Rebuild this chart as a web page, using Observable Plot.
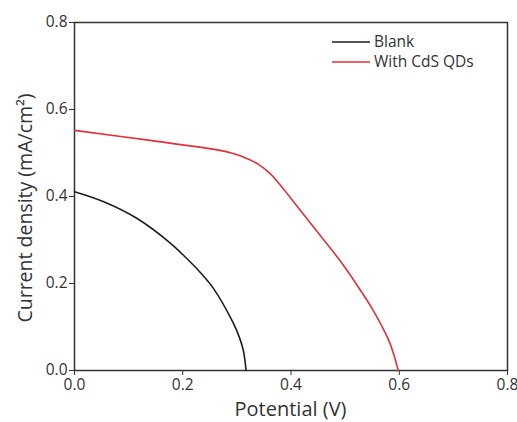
<!DOCTYPE html>
<html>
<head>
<meta charset="utf-8">
<script src="https://cdn.jsdelivr.net/npm/d3@7"></script>
<script src="https://cdn.jsdelivr.net/npm/@observablehq/plot@0.6"></script>
<style>
  html, body { margin: 0; padding: 0; background: #fff; }
  #chart svg { display: block; }
</style>
</head>
<body>
<div id="chart"></div>
<script>
const seriesNames = ["Blank", "With CdS QDs"];
const seriesColors = ["#1e1e1e", "#e0303c"];

const blankV = [0, 0.054, 0.115, 0.177, 0.207, 0.232, 0.256, 0.293, 0.305, 0.312, 0.315, 0.317];
const blankJ = [0.411, 0.388, 0.350, 0.293, 0.258, 0.226, 0.190, 0.110, 0.075, 0.046, 0.022, 0];

const cdsV = [0, 0.140, 0.269, 0.290, 0.312, 0.340, 0.361, 0.379, 0.416, 0.453, 0.489, 0.520, 0.551, 0.581, 0.590, 0.598];
const cdsJ = [0.552, 0.529, 0.506, 0.500, 0.491, 0.474, 0.453, 0.428, 0.370, 0.312, 0.255, 0.200, 0.140, 0.068, 0.036, 0];

const xTicks = [0, 0.2, 0.4, 0.6, 0.8];
const yTicks = [0, 0.2, 0.4, 0.6, 0.8];
const xLabel = "Potential (V)";
const yLabel = "Current density (mA/cm²)";

const blank = blankV.map((v, i) => ({V: v, J: blankJ[i]}));
const cds = cdsV.map((v, i) => ({V: v, J: cdsJ[i]}));

const fmt = d3.format(".1f");
const font = "'Open Sans', 'DejaVu Sans', sans-serif";

const plot = Plot.plot({
  width: 517,
  height: 422,
  marginLeft: 74,
  marginRight: 10,
  marginTop: 22,
  marginBottom: 52,
  style: {fontFamily: font, background: "#fff", color: "#333"},
  x: {domain: [0, 0.8]},
  y: {domain: [0, 0.8]},
  marks: [
    Plot.axisX({ticks: xTicks, tickFormat: fmt, tickSize: 5, tickPadding: 3, fontSize: 15.5,
      label: null, stroke: "#333"}),
    Plot.axisY({ticks: yTicks, tickFormat: fmt, tickSize: 5, tickPadding: 2, fontSize: 15.5,
      label: null, stroke: "#333"}),
    Plot.frame({stroke: "#333", strokeWidth: 1.5}),
    Plot.line(blank, {x: "V", y: "J", stroke: seriesColors[0], strokeWidth: 1.6, curve: "catmull-rom"}),
    Plot.line(cds, {x: "V", y: "J", stroke: seriesColors[1], strokeWidth: 1.6, curve: "catmull-rom"})
  ]
});

const svg = d3.select(plot);
const xs = plot.scale("x"), ys = plot.scale("y");
const xMid = (xs.apply(0) + xs.apply(0.8)) / 2;
const yMid = (ys.apply(0) + ys.apply(0.8)) / 2;

// axis labels
svg.append("text")
  .attr("x", xMid).attr("y", 416)
  .attr("text-anchor", "middle").attr("font-family", font).attr("font-size", 20).attr("fill", "#333")
  .text(xLabel);
svg.append("text")
  .attr("transform", `translate(32,${yMid + 12}) rotate(-90)`)
  .attr("text-anchor", "middle").attr("font-family", font).attr("font-size", 19.5).attr("fill", "#333")
  .text(yLabel);

// legend
const lg = svg.append("g").attr("font-family", font).attr("font-size", 15.5).attr("fill", "#333")
  .attr("text-anchor", "start");
seriesNames.forEach((name, i) => {
  const y0 = 42 + i * 20;
  lg.append("line").attr("x1", 332).attr("x2", 370).attr("y1", y0).attr("y2", y0)
    .attr("stroke", seriesColors[i]).attr("stroke-width", 1.6);
  lg.append("text").attr("x", 374).attr("y", y0).attr("dy", "0.35em").text(name);
});

document.getElementById("chart").appendChild(plot);
</script>
</body>
</html>
